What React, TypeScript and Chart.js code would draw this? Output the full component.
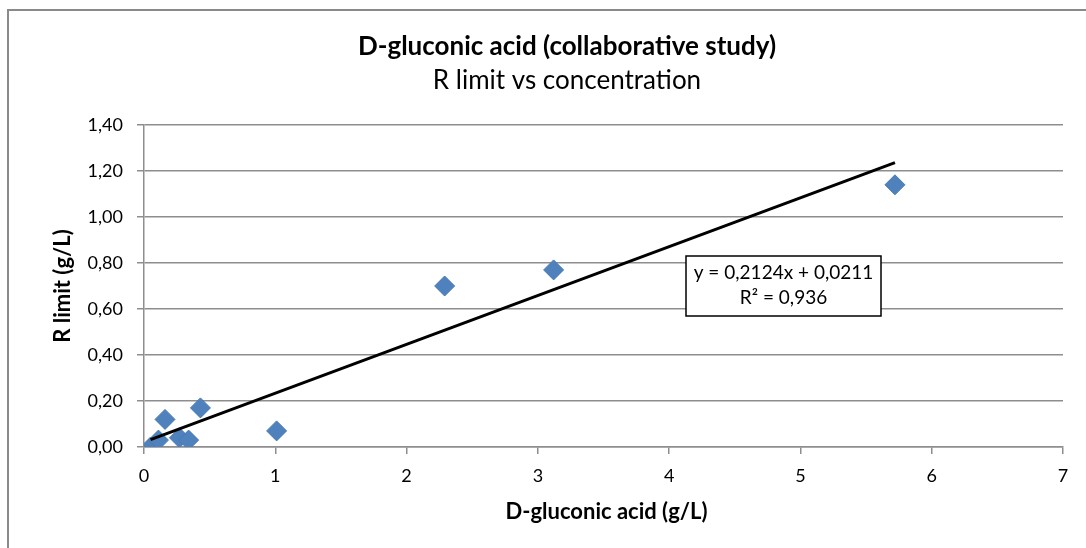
import { useEffect, useRef } from 'react';
import { Chart, registerables } from 'chart.js';

Chart.register(...registerables);

// D-gluconic acid concentration (g/L) and the matching reproducibility limit R (g/L)
const concentration = [0.05, 0.11, 0.16, 0.27, 0.34, 0.43, 1.01, 2.29, 3.12, 5.72];
const rLimit = [0.0, 0.03, 0.12, 0.04, 0.03, 0.17, 0.07, 0.7, 0.77, 1.14];

// Linear trendline y = slope * x + intercept
const slope = 0.2124;
const intercept = 0.0211;
const rSquared = 0.936;

const xTicks = [0, 1, 2, 3, 4, 5, 6, 7];
const yTicks = [0, 0.2, 0.4, 0.6, 0.8, 1.0, 1.2, 1.4];

const chartTitle = 'D-gluconic acid (collaborative study)';
const chartSubtitle = 'R limit vs concentration';
const xAxisTitle = 'D-gluconic acid (g/L)';
const yAxisTitle = 'R limit (g/L)';

const FONT = 'Lato, "Open Sans", sans-serif';
const GRID = '#8e8e8e';

const comma = (v: number, digits: number) => v.toFixed(digits).replace('.', ',');

const decorations = {
  id: 'decorations',
  beforeDraw(chart: any) {
    const { ctx, width, height } = chart;
    ctx.save();
    ctx.fillStyle = '#ffffff';
    ctx.fillRect(0, 0, width, height);
    // outer frame
    ctx.strokeStyle = '#8a8a8a';
    ctx.lineWidth = 2;
    ctx.strokeRect(8, 10, width + 20, height + 20);
    ctx.restore();
  },
  afterDraw(chart: any) {
    const { ctx, chartArea } = chart;
    ctx.save();
    ctx.fillStyle = '#000000';
    ctx.textAlign = 'center';
    ctx.textBaseline = 'middle';

    ctx.font = `bold 26px ${FONT}`;
    ctx.fillText(chartTitle, 567, 47);
    ctx.font = `26px ${FONT}`;
    ctx.fillText(chartSubtitle, 567, 81);

    // axis titles
    ctx.font = `bold 22px ${FONT}`;
    ctx.fillText(xAxisTitle, (chartArea.left + chartArea.right) / 2 + 3, 512);
    ctx.save();
    ctx.translate(63, (chartArea.top + chartArea.bottom) / 2);
    ctx.rotate(-Math.PI / 2);
    ctx.fillText(yAxisTitle, 0, 0);
    ctx.restore();

    // trendline equation box
    const bx = 686, by = 256, bw = 195, bh = 60;
    ctx.fillStyle = '#ffffff';
    ctx.fillRect(bx, by, bw, bh);
    ctx.strokeStyle = '#000000';
    ctx.lineWidth = 1.5;
    ctx.strokeRect(bx, by, bw, bh);
    ctx.fillStyle = '#000000';
    ctx.font = `19px ${FONT}`;
    ctx.fillText(`y = ${comma(slope, 4)}x + ${comma(intercept, 4)}`, bx + bw / 2, by + 17);
    ctx.fillText(`R² = ${comma(rSquared, 3)}`, bx + bw / 2, by + 42);
    ctx.restore();
  },
};

export default function App() {
  const canvasRef = useRef<HTMLCanvasElement | null>(null);

  useEffect(() => {
    if (!canvasRef.current) return;
    const xMin = Math.min(...concentration);
    const xMax = Math.max(...concentration);
    const trend = [xMin, xMax].map((x) => ({ x, y: slope * x + intercept }));

    const chart = new Chart(canvasRef.current, {
      type: 'scatter',
      data: {
        datasets: [
          {
            type: 'line',
            label: 'Linear trend',
            data: trend,
            borderColor: '#000000',
            borderWidth: 3,
            pointRadius: 0,
            showLine: true,
            fill: false,
            order: 0,
          },
          {
            label: 'R limit',
            data: concentration.map((x, i) => ({ x, y: rLimit[i] })),
            pointStyle: 'rectRot',
            pointRadius: 10,
            backgroundColor: '#4f81bd',
            borderColor: '#4a7ab5',
            borderWidth: 1,
            order: 1,
          },
        ],
      },
      options: {
        responsive: false,
        animation: false,
        layout: { padding: { top: 125, right: 23, left: 0, bottom: 0 } },
        plugins: {
          legend: { display: false },
          tooltip: { enabled: false },
          title: { display: false },
        },
        scales: {
          x: {
            type: 'linear',
            min: 0,
            max: 7,
            afterBuildTicks: (scale: any) => {
              scale.ticks = xTicks.map((value) => ({ value }));
            },
            afterFit: (scale: any) => {
              scale.height = 101;
            },
            grid: {
              drawOnChartArea: false,
              drawTicks: true,
              tickLength: 7,
              color: GRID,
              lineWidth: 1.5,
            },
            border: { color: GRID, width: 1.5 },
            ticks: {
              padding: 11,
              color: '#000000',
              font: { family: FONT, size: 18 },
              callback: (v: any) => String(v),
            },
          },
          y: {
            type: 'linear',
            min: 0,
            max: 1.4,
            afterBuildTicks: (scale: any) => {
              scale.ticks = yTicks.map((value) => ({ value }));
            },
            afterFit: (scale: any) => {
              scale.width = 144;
            },
            grid: {
              drawOnChartArea: true,
              drawTicks: true,
              tickLength: 7,
              color: GRID,
              lineWidth: 1.5,
            },
            border: { color: GRID, width: 1.5 },
            ticks: {
              padding: 14,
              color: '#000000',
              font: { family: FONT, size: 18 },
              callback: (v: any) => comma(Number(v), 2),
            },
          },
        },
      },
      plugins: [decorations],
    });
    return () => chart.destroy();
  }, []);

  return (
    <div style={{ position: 'absolute', left: 0, top: 0, width: 1086, height: 548 }}>
      <canvas ref={canvasRef} width={1086} height={548} style={{ display: 'block' }} />
    </div>
  );
}
